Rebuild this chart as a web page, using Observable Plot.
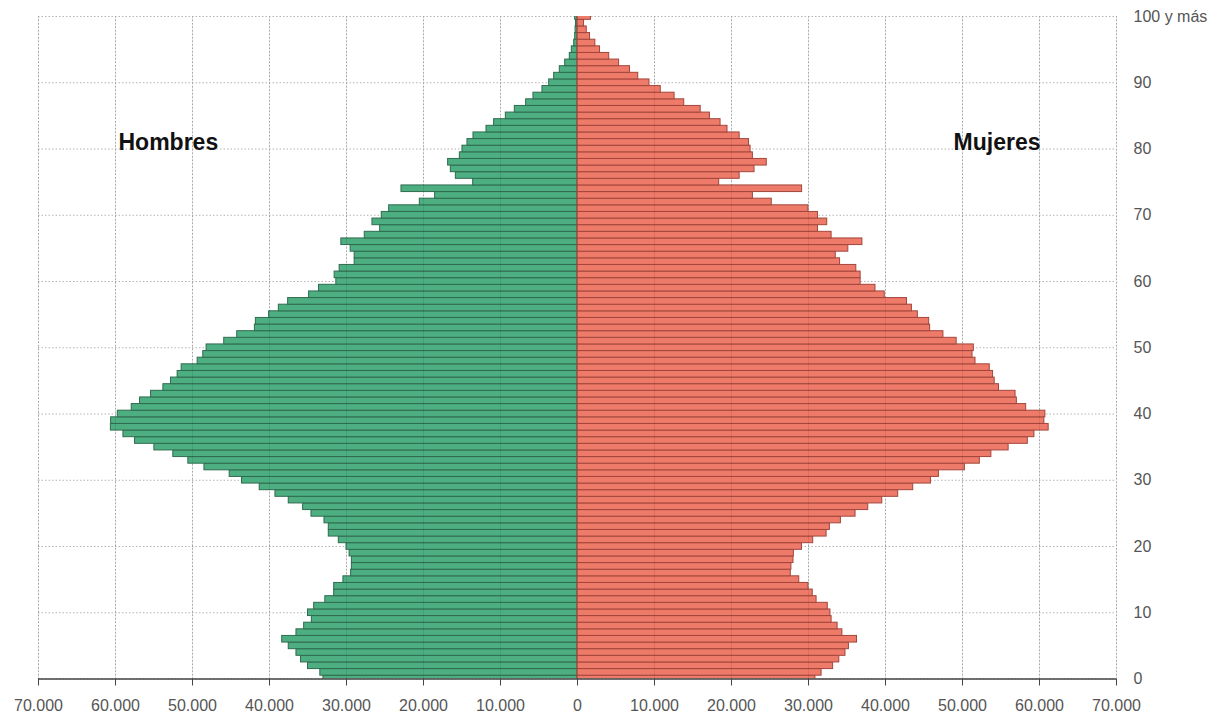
<!DOCTYPE html>
<html>
<head>
<meta charset="utf-8">
<script src="https://cdn.jsdelivr.net/npm/d3@7"></script>
<script src="https://cdn.jsdelivr.net/npm/@observablehq/plot@0.6"></script>
<style>
  body { margin: 0; background: #fff; }
</style>
</head>
<body>
<div id="chart"></div>
<script>
// Population by single year of age, 0 .. "100 y más" (index = age)
const male = [
  33000, 33400, 35000, 35900, 36500, 37500, 38350, 36500, 35500, 34500,
  35000, 34200, 32750, 31600, 31600, 30400, 29400, 29300, 29300, 29600,
  30000, 31000, 32300, 32300, 32860, 34550, 35630, 37500, 39230, 41270,
  43570, 45170, 48450, 50540, 52490, 54950, 57460, 58970, 60600, 60570,
  59700, 57890, 56810, 55380, 53780, 52790, 51930, 51410, 49330, 48600,
  48170, 45880, 44190, 41900, 41770, 40050, 38790, 37580, 34860, 33570,
  31320, 31540, 30890, 28940, 28940, 29460, 30670, 27630, 25630, 26630,
  25420, 24460, 20480, 18490, 22860, 13550, 15800, 16450, 16800, 15280,
  14940, 14290, 13510, 11820, 10830, 9310, 8140, 6670, 5720, 4550,
  3680, 3030, 2300, 1600, 1000, 740, 430, 300, 250, 200,
  300
];
const female = [
  30900, 31700, 33200, 34000, 34800, 35250, 36300, 34400, 33780, 33000,
  32850, 32500, 31050, 30550, 30000, 28800, 27700, 27780, 28050, 28100,
  29150, 30610, 32350, 32780, 34210, 36110, 37760, 39580, 41650, 43600,
  45900, 46940, 50310, 52250, 53750, 55990, 58480, 59340, 61190, 60630,
  60760, 58270, 57060, 56890, 54740, 54180, 53970, 53540, 51690, 51300,
  51470, 49240, 47520, 45800, 45670, 44200, 43430, 42790, 39900, 38700,
  36770, 36770, 36210, 34100, 33540, 35170, 37000, 33000, 31230, 32430,
  31230, 29990, 25230, 22780, 29170, 18400, 21060, 22990, 24580, 22780,
  22480, 22270, 21060, 19480, 18580, 17200, 16000, 13860, 12610, 10810,
  9350, 7890, 6820, 5400, 4120, 2920, 2320, 1630, 1200, 850,
  1750
];
const xTicks = [-70000, -60000, -50000, -40000, -30000, -20000, -10000, 0,
                10000, 20000, 30000, 40000, 50000, 60000, 70000];
const yTicks = [0, 10, 20, 30, 40, 50, 60, 70, 80, 90, 100];
const yTickLabels = ["0", "10", "20", "30", "40", "50", "60", "70", "80", "90", "100 y más"];
const sexLabels = ["Hombres", "Mujeres"];

const rows = male.map((m, i) => ({age: i, male: m, female: female[i]}));
const es = d3.formatLocale({decimal: ",", thousands: ".", grouping: [3], currency: ["", " €"]});
const fmt = es.format(",");

const chart = Plot.plot({
  width: 1226,
  height: 720,
  marginLeft: 38,
  marginRight: 110,
  marginTop: 16,
  marginBottom: 41.5,
  x: {domain: [-70000, 70000]},
  y: {domain: [0, 100]},
  style: {
    fontFamily: "'Liberation Sans', Arial, sans-serif",
    fontSize: "16px",
    color: "#444",
    background: "#fff"
  },
  marks: [
    Plot.gridX(xTicks, {stroke: "#b4b4b4", strokeOpacity: 1, strokeDasharray: "1.5,2"}),
    Plot.gridY(yTicks, {stroke: "#b4b4b4", strokeOpacity: 1, strokeDasharray: "1.5,2"}),
    Plot.rect(rows, {
      x1: d => -d.male, x2: 0,
      y1: d => d.age - 0.5, y2: d => d.age + 0.5,
      fill: "#4dae82", stroke: "#2f6b4e", strokeWidth: 1, clip: true
    }),
    Plot.rect(rows, {
      x1: 0, x2: d => d.female,
      y1: d => d.age - 0.5, y2: d => d.age + 0.5,
      fill: "#ee7a6a", stroke: "#a2463b", strokeWidth: 1, clip: true
    }),
    Plot.gridX(xTicks, {stroke: "#000", strokeOpacity: 0.08}),
    Plot.ruleY([0], {stroke: "#444", strokeWidth: 1.5}),
    Plot.axisX(xTicks, {
      tickSize: 7, tickPadding: 14, stroke: "#444", fill: "#555", fontSize: 16,
      tickFormat: d => fmt(Math.abs(d)), label: null
    }),
    Plot.axisY(yTicks, {
      anchor: "right", tickSize: 0, tickPadding: 17, fill: "#555", fontSize: 16,
      tickFormat: d => yTickLabels[yTicks.indexOf(d)], label: null
    }),
    Plot.text([sexLabels[0]], {
      text: d => d, frameAnchor: "top-left", dx: 80, dy: 126,
      textAnchor: "start", lineAnchor: "middle",
      fontWeight: "bold", fontSize: 23, fill: "#111"
    }),
    Plot.text([sexLabels[1]], {
      text: d => d, frameAnchor: "top-right", dx: -76, dy: 126,
      textAnchor: "end", lineAnchor: "middle",
      fontWeight: "bold", fontSize: 23, fill: "#111"
    })
  ]
});
document.getElementById("chart").appendChild(chart);
</script>
</body>
</html>
